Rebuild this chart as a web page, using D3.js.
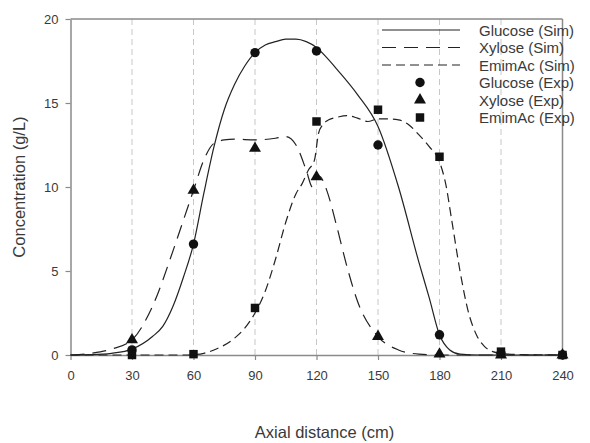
<!DOCTYPE html>
<html><head><meta charset="utf-8">
<script src="https://cdn.jsdelivr.net/npm/d3@7"></script>
<style>body{margin:0;background:#fff}svg{display:block}text{font-family:Arial,"Liberation Sans",sans-serif}</style>
</head><body><svg id="c" width="590" height="443"></svg>
<script>
// ---- data ----
const xTicks = [0,30,60,90,120,150,180,210,240];
const yTicks = [0,5,10,15,20];
const expX = [30,60,90,120,150,180,210,240];
const glucoseExp = [0.3,6.6,18.0,18.1,12.5,1.2,0.1,0.0];
const xyloseExp  = [0.9,9.8,12.3,10.6,1.1,0.05,0.0,0.0];
const emimacExp  = [0.0,0.05,2.8,13.9,14.6,11.8,0.2,0.0];

const glucoseSimX = [0,10,20,30,40,45,50,55,60,65,70,75,80,85,90,95,100,105,110,115,120,125,130,140,150,160,170,175,180,185,190,200,240];
const glucoseSimY = [0,0.02,0.1,0.35,1.1,1.7,2.9,4.6,6.6,9.6,12.4,14.6,16.1,17.2,18.0,18.45,18.65,18.8,18.8,18.65,18.3,17.7,17.0,15.5,13.6,10.0,5.5,3.4,1.2,0.3,0.05,0,0];

const xyloseSimX = [0,10,20,30,40,50,55,60,65,70,75,80,90,100,105,110,115,118,120,122,125,130,135,140,150,160,170,180,240];
const xyloseSimY = [0,0.1,0.35,0.9,2.9,6.2,8.0,9.8,11.6,12.6,12.8,12.85,12.8,12.9,13.0,12.5,11.0,10.0,10.7,10.6,9.8,7.6,5.2,3.2,1.1,0.3,0.05,0,0];

const emimacSimX = [0,55,60,65,70,80,85,90,95,100,105,110,113,116,119,121,123,126,130,135,140,145,150,155,160,165,170,175,180,183,186,190,194,198,202,206,210,220,240];
const emimacSimY = [0,0,0.02,0.1,0.3,1.0,1.6,2.5,3.8,5.7,7.9,9.6,10.2,11.0,11.6,13.2,13.7,14.0,14.15,14.25,14.1,13.9,14.05,14.05,14.0,13.7,13.1,12.4,11.5,10.2,8.0,5.0,2.6,1.2,0.5,0.2,0.1,0.02,0];

const legendLabels = ["Glucose (Sim)","Xylose (Sim)","EmimAc (Sim)","Glucose (Exp)","Xylose (Exp)","EmimAc (Exp)"];

// ---- chart ----
const svg = d3.select("#c");
const x = d3.scaleLinear().domain([0,240]).range([70.5,562.5]);
const y = d3.scaleLinear().domain([0,20]).range([355,19]);
const axisCol = "#8a8a8a";
const txtCol = "#3a3a3a";

// grid lines
svg.append("g").selectAll("line").data(xTicks.filter(d=>d>0&&d<240)).join("line")
  .attr("x1",d=>x(d)).attr("x2",d=>x(d)).attr("y1",y(0)).attr("y2",y(20))
  .attr("stroke","#c8c8c8").attr("stroke-width",1).attr("stroke-dasharray","6,4");

// frame top/right
svg.append("line").attr("x1",x(0)).attr("x2",x(240)).attr("y1",y(20)).attr("y2",y(20)).attr("stroke",axisCol).attr("stroke-width",1.5);
svg.append("line").attr("x1",x(240)).attr("x2",x(240)).attr("y1",y(0)).attr("y2",y(20)).attr("stroke",axisCol).attr("stroke-width",1.5);

const xAxis = svg.append("g").attr("transform",`translate(0,${y(0)})`)
  .call(d3.axisBottom(x).tickValues(xTicks).tickSize(5).tickPadding(11).tickSizeOuter(0));
const yAxis = svg.append("g").attr("transform",`translate(${x(0)},0)`)
  .call(d3.axisLeft(y).tickValues(yTicks).tickSize(5).tickPadding(7).tickSizeOuter(0));
[xAxis,yAxis].forEach(a=>{
  a.select(".domain").attr("stroke",axisCol).attr("stroke-width",1.5);
  a.selectAll(".tick line").attr("stroke",axisCol).attr("stroke-width",1.2);
  a.selectAll(".tick text").attr("font-size",13).attr("fill",txtCol).attr("font-family","Arial, 'Liberation Sans', sans-serif");
});

// axis titles
svg.append("text").attr("x",(x(0)+x(240))/2 + 8).attr("y",438).attr("text-anchor","middle")
  .attr("font-size",16.5).attr("fill",txtCol).text("Axial distance (cm)");
svg.append("text").attr("transform",`translate(25,${(y(0)+y(20))/2}) rotate(-90)`).attr("text-anchor","middle")
  .attr("font-size",16.5).attr("fill",txtCol).text("Concentration (g/L)");

// simulated lines
const line = d3.line().x(d=>x(d[0])).y(d=>y(d[1])).curve(d3.curveMonotoneX);
const sims = [
  {xs:glucoseSimX, ys:glucoseSimY, dash:null},
  {xs:xyloseSimX, ys:xyloseSimY, dash:"14,8"},
  {xs:emimacSimX, ys:emimacSimY, dash:"9,5"}
];
sims.forEach(s=>{
  svg.append("path").datum(d3.zip(s.xs,s.ys)).attr("d",line)
    .attr("fill","none").attr("stroke","#222").attr("stroke-width",1.2)
    .attr("stroke-dasharray",s.dash);
});

// experimental markers
const sym = {
  circle: d3.symbol().type(d3.symbolCircle).size(70),
  triangle: d3.symbol().type(d3.symbolTriangle).size(62),
  square: d3.symbol().type(d3.symbolSquare).size(72)
};
const exps = [
  {vals:glucoseExp, s:sym.circle},
  {vals:xyloseExp, s:sym.triangle},
  {vals:emimacExp, s:sym.square}
];
exps.forEach(e=>{
  svg.append("g").selectAll("path").data(d3.zip(expX,e.vals)).join("path")
    .attr("d",e.s()).attr("transform",d=>`translate(${x(d[0])},${y(d[1])})`).attr("fill","#111");
});

// legend
const lg = svg.append("g");
const rowY = i => 30 + i*17.5;
legendLabels.forEach((t,i)=>{
  lg.append("text").attr("x",479).attr("y",rowY(i)+5.5).attr("font-size",15).attr("fill",txtCol).text(t);
});
sims.forEach((s,i)=>{
  lg.append("line").attr("x1",382).attr("x2",460).attr("y1",rowY(i)).attr("y2",rowY(i))
    .attr("stroke","#222").attr("stroke-width",1.2).attr("stroke-dasharray",s.dash);
});
exps.forEach((e,i)=>{
  lg.append("path").attr("d",e.s()).attr("transform",`translate(420,${rowY(i+3)})`).attr("fill","#111");
});
</script></body></html>
